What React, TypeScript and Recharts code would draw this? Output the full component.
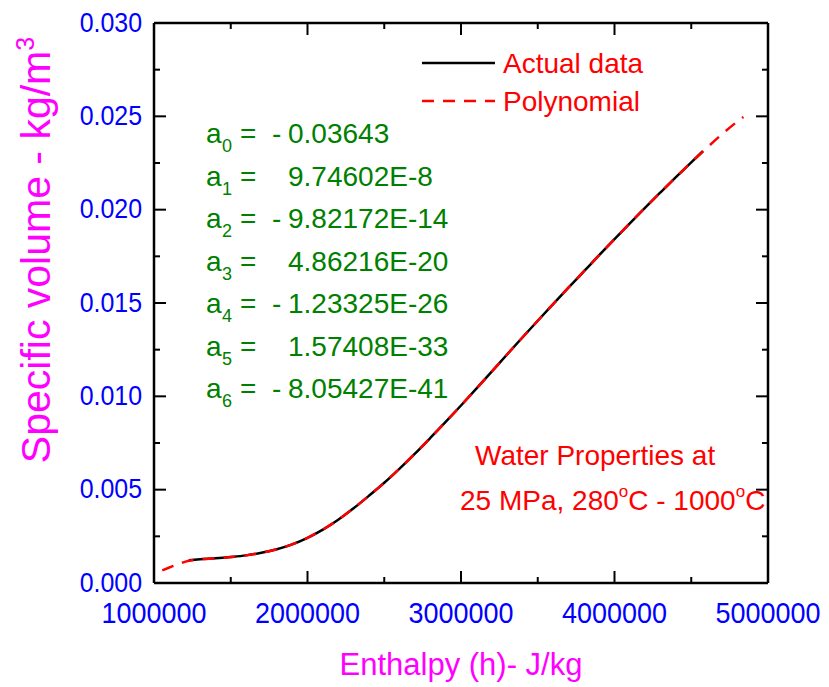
import { LineChart, Line, XAxis, YAxis } from 'recharts'

// enthalpy (J/kg) and specific volume for the measured curve
const actualH = [1227000, 1300000, 1400000, 1500000, 1600000, 1700000, 1800000, 1900000, 2000000, 2100000, 2200000, 2300000, 2400000, 2500000, 2600000, 2700000, 2800000, 2900000, 3000000, 3100000, 3200000, 3300000, 3400000, 3500000, 3600000, 3700000, 3800000, 3900000, 4000000, 4100000, 4200000, 4300000, 4400000, 4500000, 4575000]
const actualV = [0.00122, 0.00127, 0.00132, 0.00139, 0.00148, 0.00162, 0.00181, 0.00207, 0.00242, 0.00286, 0.00339, 0.004, 0.00467, 0.00537, 0.00613, 0.00693, 0.00777, 0.00863, 0.00951, 0.01041, 0.01132, 0.01224, 0.01315, 0.01405, 0.01494, 0.01582, 0.01669, 0.01756, 0.01842, 0.01927, 0.02011, 0.02093, 0.02174, 0.02253, 0.02313]

// sixth-order fit, evaluated over a wider enthalpy range
const polyH = [1054000, 1100000, 1150000, 1200000, 1300000, 1400000, 1500000, 1600000, 1700000, 1800000, 1900000, 2000000, 2100000, 2200000, 2300000, 2400000, 2500000, 2600000, 2700000, 2800000, 2900000, 3000000, 3100000, 3200000, 3300000, 3400000, 3500000, 3600000, 3700000, 3800000, 3900000, 4000000, 4100000, 4200000, 4300000, 4400000, 4500000, 4600000, 4700000, 4800000, 4840000]
const polyV = [0.00068, 0.00083, 0.00099, 0.00113, 0.00127, 0.00132, 0.00139, 0.00148, 0.00162, 0.00181, 0.00207, 0.00242, 0.00286, 0.00339, 0.004, 0.00467, 0.00537, 0.00613, 0.00693, 0.00777, 0.00863, 0.00951, 0.01041, 0.01132, 0.01224, 0.01315, 0.01405, 0.01494, 0.01582, 0.01669, 0.01756, 0.01842, 0.01927, 0.02011, 0.02093, 0.02174, 0.02253, 0.0233, 0.02404, 0.02472, 0.02497]

const xTicks = [1000000, 1500000, 2000000, 2500000, 3000000, 3500000, 4000000, 4500000, 5000000]
const yTicks = [0, 0.0025, 0.005, 0.0075, 0.01, 0.0125, 0.015, 0.0175, 0.02, 0.0225, 0.025, 0.0275, 0.03]

const coefSubs = ['0', '1', '2', '3', '4', '5', '6']
const coefValues = ['- 0.03643', '9.74602E-8', '- 9.82172E-14', '4.86216E-20', '- 1.23325E-26', '1.57408E-33', '- 8.05427E-41']

const actualData = actualH.map((h, i) => ({ h, v: actualV[i] }))
const polyData = polyH.map((h, i) => ({ h, v: polyV[i] }))

const BLUE = '#0000FF'
const RED = '#FF0000'
const MAGENTA = '#FF00FF'
const GREEN = '#008000'
const FONT = 'Liberation Sans, Arial, sans-serif'

const isMajorX = (v: number) => v % 1000000 === 0
const isMajorY = (v: number) => Math.abs(v / 0.005 - Math.round(v / 0.005)) < 1e-9

function BottomTick({ x, y, payload }: any) {
  const major = isMajorX(payload.value)
  return (
    <g>
      <line x1={x} x2={x} y1={y} y2={y - (major ? 12 : 6)} stroke="#000" strokeWidth={2} />
      {major && (
        <text transform={`translate(${x},${y + 40}) scale(0.93,1)`} textAnchor="middle" fill={BLUE} fontSize={29} fontFamily={FONT}>
          {payload.value}
        </text>
      )}
    </g>
  )
}

function TopTick({ x, y, payload }: any) {
  const major = isMajorX(payload.value)
  return <line x1={x} x2={x} y1={y} y2={y + (major ? 12 : 6)} stroke="#000" strokeWidth={2} />
}

function LeftTick({ x, y, payload }: any) {
  const major = isMajorY(payload.value)
  return (
    <g>
      <line x1={x} x2={x + (major ? 12 : 6)} y1={y} y2={y} stroke="#000" strokeWidth={2} />
      {major && (
        <text transform={`translate(${x - 12},${y + 8.5}) scale(0.89,1)`} textAnchor="end" fill={BLUE} fontSize={28} fontFamily={FONT}>
          {payload.value.toFixed(3)}
        </text>
      )}
    </g>
  )
}

function RightTick({ x, y, payload }: any) {
  const major = isMajorY(payload.value)
  return <line x1={x} x2={x - (major ? 12 : 6)} y1={y} y2={y} stroke="#000" strokeWidth={2} />
}

function Annotations() {
  return (
    <g fontFamily={FONT}>
      {/* axis titles */}
      <text x={461} y={675} textAnchor="middle" fill={MAGENTA} fontSize={31}>
        Enthalpy (h)- J/kg
      </text>
      <text transform="translate(50,250) rotate(-90)" textAnchor="middle" fill={MAGENTA} fontSize={41}>
        Specific volume - kg/m<tspan dy={-16} fontSize={25}>3</tspan>
      </text>

      {/* legend */}
      <line x1={422} x2={495} y1={63} y2={63} stroke="#000" strokeWidth={2.5} />
      <text x={503} y={73} fill={RED} fontSize={28}>Actual data</text>
      <line x1={422} x2={495} y1={101} y2={101} stroke={RED} strokeWidth={2.5} strokeDasharray="12 9" />
      <text x={503} y={111} fill={RED} fontSize={28}>Polynomial</text>

      {/* fit coefficients */}
      {coefValues.map((val, i) => {
        const base = 143 + i * 42.5
        const neg = val.startsWith('- ')
        return (
          <g key={i} fill={GREEN}>
            <text x={206} y={base} fontSize={28}>a</text>
            <text x={222} y={base + 9} fontSize={18}>{coefSubs[i]}</text>
            <text x={240} y={base} fontSize={28}>=</text>
            {neg && <text x={272} y={base} fontSize={28}>-</text>}
            <text x={288} y={base} fontSize={28}>{neg ? val.slice(2) : val}</text>
          </g>
        )
      })}

      {/* conditions */}
      <text x={475} y={465} fill={RED} fontSize={28}>Water Properties at</text>
      <text x={460} y={510} fill={RED} fontSize={28}>
        25 MPa, 280<tspan dy={-13} fontSize={17}>o</tspan>
        <tspan dy={13}>C - 1000</tspan>
        <tspan dy={-13} fontSize={17}>o</tspan>
        <tspan dy={13}>C</tspan>
      </text>
    </g>
  )
}

const frame = { stroke: '#000', strokeWidth: 2.5 }

export default function App() {
  return (
    <div style={{ position: 'absolute', left: 0, top: 0, width: 829, height: 687, background: '#fff' }}>
      <LineChart width={829} height={687} margin={{ top: 22, right: 60, bottom: 0, left: 0 }}>
        <XAxis
          xAxisId="b"
          dataKey="h"
          type="number"
          domain={[1000000, 5000000]}
          allowDataOverflow
          ticks={xTicks}
          height={104}
          tickSize={0}
          tickMargin={0}
          tickLine={false}
          axisLine={frame}
          tick={BottomTick}
          interval={0}
        />
        <XAxis
          xAxisId="t"
          orientation="top"
          dataKey="h"
          type="number"
          domain={[1000000, 5000000]}
          allowDataOverflow
          ticks={xTicks}
          height={1}
          tickSize={0}
          tickMargin={0}
          tickLine={false}
          axisLine={frame}
          tick={TopTick}
          interval={0}
        />
        <YAxis
          yAxisId="l"
          dataKey="v"
          type="number"
          domain={[0, 0.03]}
          allowDataOverflow
          ticks={yTicks}
          width={154}
          tickSize={0}
          tickMargin={0}
          tickLine={false}
          axisLine={frame}
          tick={LeftTick}
          interval={0}
        />
        <YAxis
          yAxisId="r"
          orientation="right"
          dataKey="v"
          type="number"
          domain={[0, 0.03]}
          allowDataOverflow
          ticks={yTicks}
          width={1}
          tickSize={0}
          tickMargin={0}
          tickLine={false}
          axisLine={frame}
          tick={RightTick}
          interval={0}
        />
        <Line
          xAxisId="b"
          yAxisId="l"
          data={actualData}
          dataKey="v"
          type="monotone"
          stroke="#000"
          strokeWidth={2.5}
          dot={false}
          isAnimationActive={false}
        />
        <Line
          xAxisId="b"
          yAxisId="l"
          data={polyData}
          dataKey="v"
          type="monotone"
          stroke={RED}
          strokeWidth={2.5}
          strokeDasharray="12 9"
          dot={false}
          isAnimationActive={false}
        />
        <Annotations />
      </LineChart>
    </div>
  )
}
